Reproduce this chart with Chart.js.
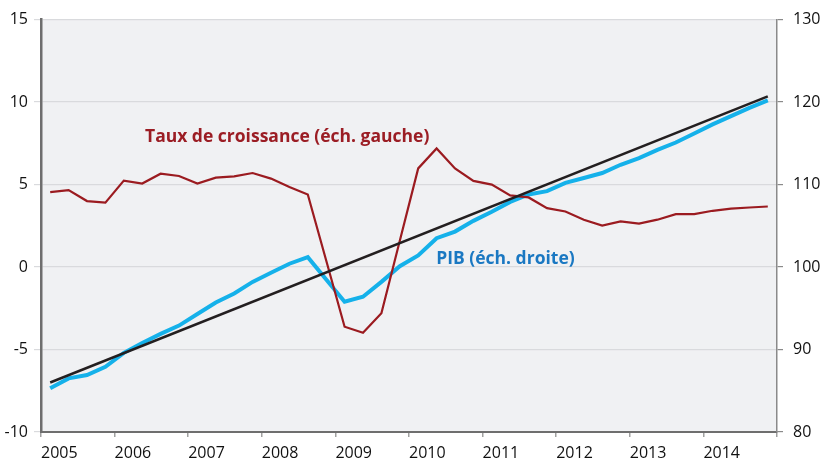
<!DOCTYPE html>
<html>
<head>
<meta charset="utf-8">
<script src="https://cdn.jsdelivr.net/npm/chart.js@4"></script>
<style>
html,body{margin:0;padding:0;background:#fff;}
#wrap{width:827px;height:466px;position:relative;}
</style>
</head>
<body>
<div id="wrap"><canvas id="c" width="827" height="466"></canvas></div>
<script>
// ---- data ----
const years = [2005, 2006, 2007, 2008, 2009, 2010, 2011, 2012, 2013, 2014];
const quarterNames = ['T1', 'T2', 'T3', 'T4'];
// Taux de croissance (left axis), quarterly 2005T1..2014T4
const tauxCroissance = [
  4.54, 4.66, 4.00, 3.90,
  5.24, 5.06, 5.66, 5.52,
  5.06, 5.42, 5.50, 5.70,
  5.36, 4.85, 4.40, 0.40,
  -3.62, -3.98, -2.80, 1.60,
  5.98, 7.19, 5.98, 5.22,
  5.00, 4.34, 4.22, 3.57,
  3.37, 2.87, 2.51, 2.77,
  2.63, 2.87, 3.21, 3.21,
  3.41, 3.54, 3.61, 3.67
];
// PIB (right axis)
const pib = [
  85.3, 86.5, 86.9, 87.9,
  89.6, 90.8, 91.9, 92.9,
  94.3, 95.7, 96.8, 98.2,
  99.3, 100.4, 101.2, 98.5,
  95.8, 96.4, 98.2, 100.1,
  101.4, 103.5, 104.3, 105.6,
  106.7, 107.9, 108.8, 109.2,
  110.2, 110.8, 111.4, 112.4,
  113.2, 114.2, 115.1, 116.2,
  117.3, 118.3, 119.3, 120.2
];
// Trend line (right axis): start and end values
const tendance = [86.0, 120.7];
const leftTicks = [-10, -5, 0, 5, 10, 15];
const rightTicks = [80, 90, 100, 110, 120, 130];
const labelTaux = 'Taux de croissance (éch. gauche)';
const labelPib = 'PIB (éch. droite)';

// ---- build points ----
const categories = [];
years.forEach(y => quarterNames.forEach((q, i) => categories.push({ name: y + q, x: y + (i + 0.5) / 4 })));
const tauxPts = categories.map((c, i) => ({ x: c.x, y: tauxCroissance[i] }));
const pibPts = categories.map((c, i) => ({ x: c.x, y: pib[i] }));
const trendPts = [
  { x: categories[0].x, y: tendance[0] },
  { x: categories[categories.length - 1].x, y: tendance[1] }
];

const FONT = "'Open Sans', 'Noto Sans', sans-serif";

const bgPlugin = {
  id: 'bg',
  beforeDraw(chart) {
    const { ctx, chartArea: a } = chart;
    ctx.save();
    ctx.fillStyle = '#f0f1f3';
    ctx.fillRect(a.left, a.top, a.right - a.left, a.bottom - a.top);
    ctx.restore();
  }
};

const labelPlugin = {
  id: 'labels',
  afterDatasetsDraw(chart) {
    const { ctx } = chart;
    const xs = chart.scales.x, yl = chart.scales.yL;
    ctx.save();
    ctx.font = 'bold 17.5px ' + FONT;
    ctx.textBaseline = 'alphabetic';
    ctx.textAlign = 'left';
    ctx.fillStyle = '#9b1d24';
    ctx.fillText(labelTaux, xs.getPixelForValue(2006.413), yl.getPixelForValue(7.6));
    ctx.fillStyle = '#1a78c2';
    ctx.fillText(labelPib, xs.getPixelForValue(2010.37), yl.getPixelForValue(0.2));
    ctx.restore();
  }
};

new Chart(document.getElementById('c'), {
  type: 'line',
  data: {
    datasets: [
      { label: labelPib, data: pibPts, yAxisID: 'yR', borderColor: '#15b1ea', borderWidth: 4, pointRadius: 0, tension: 0, order: 3 },
      { label: labelTaux, data: tauxPts, yAxisID: 'yL', borderColor: '#9b1b20', borderWidth: 2.2, pointRadius: 0, tension: 0, order: 2 },
      { label: 'Tendance', data: trendPts, yAxisID: 'yR', borderColor: '#231f20', borderWidth: 2.5, pointRadius: 0, tension: 0, order: 1 }
    ]
  },
  options: {
    responsive: false,
    animation: false,
    events: [],
    layout: { padding: { top: 17, left: 0, right: 0, bottom: 0 } },
    plugins: { legend: { display: false }, tooltip: { enabled: false } },
    scales: {
      x: {
        type: 'linear',
        min: years[0],
        max: years[years.length - 1] + 1,
        afterBuildTicks: s => { s.ticks = years.concat([years[years.length - 1] + 1]).map(v => ({ value: v })); },
        afterFit: s => { s.height = 34; },
        ticks: {
          align: 'start',
          padding: 7,
          color: '#111',
          font: { family: FONT, size: 16 },
          maxRotation: 0,
          autoSkip: false,
          callback: v => (years.includes(v) ? String(v) : '')
        },
        grid: { drawOnChartArea: false, drawTicks: true, tickLength: 5, color: '#a0a0a0', lineWidth: 1.5 },
        border: { display: true, color: '#6e6e6e', width: 2 }
      },
      yL: {
        position: 'left',
        min: leftTicks[0],
        max: leftTicks[leftTicks.length - 1],
        afterBuildTicks: s => { s.ticks = leftTicks.map(v => ({ value: v })); },
        afterFit: s => { s.width = 41; },
        ticks: { color: '#111', padding: 6, font: { family: FONT, size: 16 } },
        grid: { color: '#d9dadd', lineWidth: 1.2, tickLength: 7, drawTicks: true },
        border: { display: true, color: '#6e6e6e', width: 2.5 }
      },
      yR: {
        position: 'right',
        min: rightTicks[0],
        max: rightTicks[rightTicks.length - 1],
        afterBuildTicks: s => { s.ticks = rightTicks.map(v => ({ value: v })); },
        afterFit: s => { s.width = 50; },
        ticks: { color: '#111', padding: 10, font: { family: FONT, size: 16 } },
        grid: { drawOnChartArea: false, drawTicks: true, tickLength: 6, color: '#8a8a8a', lineWidth: 1.2 },
        border: { display: true, color: '#8a8a8a', width: 1.5 }
      }
    }
  },
  plugins: [bgPlugin, labelPlugin]
});
</script>
</body>
</html>
